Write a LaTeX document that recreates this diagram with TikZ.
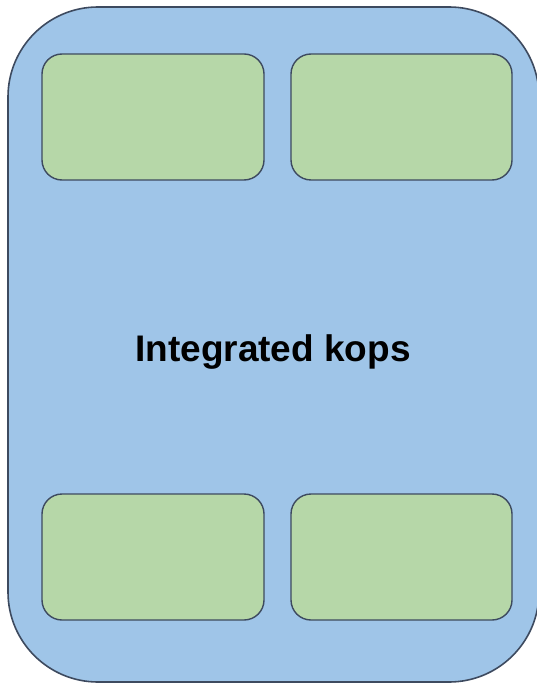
\documentclass[tikz,border=0pt]{standalone}
\usepackage{fontspec}
\setmainfont{Liberation Sans}
\definecolor{outerblue}{HTML}{9FC5E8}
\definecolor{innergreen}{HTML}{B6D7A8}
\definecolor{edgecol}{HTML}{3D4A5F}
\begin{document}
\begin{tikzpicture}[x=1pt,y=-1pt,
  outerbox/.style={draw=edgecol,fill=outerblue,line width=1.6pt,rounded corners=90pt},
  greenbox/.style={draw=edgecol,fill=innergreen,line width=1.4pt,rounded corners=20pt},
  lbl/.style={font=\bfseries\fontsize{37}{44}\selectfont}]
\useasboundingbox (0,0) rectangle (537,684);
\draw[outerbox] (8,7) rectangle (539,682);
\draw[greenbox] (42,54) rectangle (264,180);
\draw[greenbox] (291,54) rectangle (512,180);
\draw[greenbox] (42,494) rectangle (264,620);
\draw[greenbox] (291,494) rectangle (512,620);
\node[lbl] (t) at (273,352) {Integrated kops};
\end{tikzpicture}
\end{document}
